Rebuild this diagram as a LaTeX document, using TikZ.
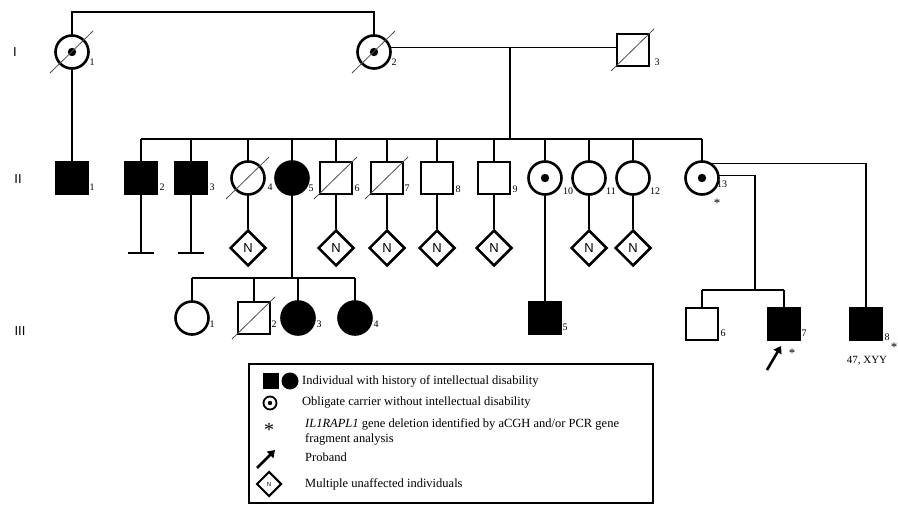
\documentclass[tikz,border=0pt]{standalone}
\usepackage{fontspec}
\setmainfont{Liberation Serif}
\newfontfamily\gensans{Liberation Sans}
\usetikzlibrary{shapes.geometric,arrows.meta}
\begin{document}
\begin{tikzpicture}[x=1pt,y=-1pt,
  ind/.style={draw,line width=2.6pt,inner sep=0pt,outer sep=0pt},
  male/.style={ind,rectangle,minimum size=32pt},
  female/.style={ind,circle,minimum size=33pt},
  aff/.style={fill=black},
  lnk/.style={line width=1.4pt},
  slash/.style={line width=0.8pt,draw=black!70},
  num/.style={font=\fontsize{10}{10}\selectfont,inner sep=0pt},
  gen/.style={font=\gensans\fontsize{13}{13}\selectfont,inner sep=0pt},
  nd/.style={draw,diamond,line width=2.5pt,minimum size=36pt,inner sep=0pt,font=\gensans\fontsize{13}{13}\selectfont},
  star/.style={font=\fontsize{13}{13}\selectfont,inner sep=0pt},
  leg/.style={font=\fontsize{12.5}{13}\selectfont,inner sep=0pt,anchor=west},
  proarrow/.style={line width=2.6pt,-{Triangle[length=7pt,width=9pt]}}
]
\useasboundingbox (0,0) rectangle (898,508);

% generation labels
\node[gen] (gI) at (15,52) {I};
\node[gen] (gII) at (18,179) {II};
\node[gen] (gIII) at (20,331) {III};

% Generation I
\node[female] (I1) at (72,52) {};
\node[female] (I2) at (374,52) {};
\node[male] (I3) at (633,50) {};
\fill (I1) circle (4.2pt);
\fill (I2) circle (4.2pt);
\draw[slash] (I1) ++(-22,21) -- ++(43,-42);
\draw[slash] (I2) ++(-22,21) -- ++(43,-42);
\draw[slash] (I3) ++(-22,21) -- ++(43,-42);
\node[num] (lI1) at ([shift={(20,10)}]I1.center) {1};
\node[num] (lI2) at ([shift={(20,10)}]I2.center) {2};
\node[num] (lI3) at ([shift={(24,12)}]I3.center) {3};
\coordinate (topm) at (223,12);
\draw[lnk] (I1.north) |- (topm) -| (I2.north);
\draw[lnk] (I2.15) -- (I3.west |- I2.15);
\coordinate (dropI) at (510,48);
\coordinate (sibII) at (510,139);
\draw[lnk] (dropI) -- (sibII);

% Generation II
\node[male,aff] (II1) at (72,178) {};
\node[male,aff] (II2) at (141,178) {};
\node[male,aff] (II3) at (191,178) {};
\node[female] (II4) at (248,178) {};
\node[female,aff] (II5) at (292,178) {};
\node[male] (II6) at (336,178) {};
\node[male] (II7) at (387,178) {};
\node[male] (II8) at (437,178) {};
\node[male] (II9) at (494,178) {};
\node[female] (II10) at (545,178) {};
\node[female] (II11) at (589,178) {};
\node[female] (II12) at (633,178) {};
\node[female] (II13) at (702,178) {};
\fill (II10) circle (4.2pt);
\fill (II13) circle (4.2pt);
\draw[slash] (II4) ++(-22,21) -- ++(43,-42);
\draw[slash] (II6) ++(-22,21) -- ++(43,-42);
\draw[slash] (II7) ++(-22,21) -- ++(43,-42);

\node[num] (lII1) at ([shift={(20,9)}]II1.center) {1};
\node[num] (lII2) at ([shift={(21,9)}]II2.center) {2};
\node[num] (lII3) at ([shift={(21,9)}]II3.center) {3};
\node[num] (lII4) at ([shift={(22,9)}]II4.center) {4};
\node[num] (lII5) at ([shift={(19,10)}]II5.center) {5};
\node[num] (lII6) at ([shift={(21,10)}]II6.center) {6};
\node[num] (lII7) at ([shift={(20,10)}]II7.center) {7};
\node[num] (lII8) at ([shift={(21,11)}]II8.center) {8};
\node[num] (lII9) at ([shift={(21,11)}]II9.center) {9};
\node[num] (lII10) at ([shift={(23,13)}]II10.center) {10};
\node[num] (lII11) at ([shift={(22,13)}]II11.center) {11};
\node[num] (lII12) at ([shift={(22,13)}]II12.center) {12};
\node[num] (lII13) at ([shift={(20,6)}]II13.center) {13};
\node[star] (sII13) at ([shift={(15,25)}]II13.center) {*};

\draw[lnk] (I1.south) -- (II1.north);
\draw[lnk] (II2.north |- sibII) -- (II13.north |- sibII);
\foreach \c in {II2,II3,II4,II5,II6,II7,II8,II9,II10,II11,II12,II13}
  \draw[lnk] (\c.north) -- (\c.north |- sibII);

% no offspring bars
\coordinate (nb2) at (141,253);
\coordinate (nb3) at (191,253);
\draw[lnk] (II2.south) -- (nb2);
\draw[lnk] (II3.south) -- (nb3);
\draw[lnk] (nb2) ++(-13,0) -- ++(26,0);
\draw[lnk] (nb3) ++(-13,0) -- ++(26,0);

% multiple unaffected diamonds
\foreach \c in {II4,II6,II7,II8,II9,II11,II12}{
  \node[nd] (N\c) at (\c |- 0,248) {N};
  \draw[lnk] (\c.south) -- (N\c.north);
}

% Generation III
\node[female] (III1) at (192,318) {};
\node[male] (III2) at (254,318) {};
\node[female,aff] (III3) at (298,318) {};
\node[female,aff] (III4) at (355,318) {};
\node[male,aff] (III5) at (545,318) {};
\node[male] (III6) at (702,324) {};
\node[male,aff] (III7) at (784,324) {};
\node[male,aff] (III8) at (866,324) {};
\draw[slash] (III2) ++(-22,21) -- ++(43,-42);

\node[num] (lIII1) at ([shift={(20,6)}]III1.center) {1};
\node[num] (lIII2) at ([shift={(20,6)}]III2.center) {2};
\node[num] (lIII3) at ([shift={(21,6)}]III3.center) {3};
\node[num] (lIII4) at ([shift={(21,6)}]III4.center) {4};
\node[num] (lIII5) at ([shift={(20,9)}]III5.center) {5};
\node[num] (lIII6) at ([shift={(21,9)}]III6.center) {6};
\node[num] (lIII7) at ([shift={(20,9)}]III7.center) {7};
\node[num] (lIII8) at ([shift={(21,13)}]III8.center) {8};
\node[star] (sIII7) at ([shift={(8,29)}]III7.center) {*};
\node[star] (sIII8) at ([shift={(28,23)}]III8.center) {*};
\node[font=\fontsize{11}{11}\selectfont,inner sep=0pt] (kar) at ([shift={(1,37)}]III8.center) {47, XYY};
\coordinate (arT) at (767,370);
\coordinate (arH) at (781,346);
\draw[proarrow] (arT) -- (arH);

\coordinate (sibIIIa) at (292,278);
\draw[lnk] (II5.south) -- (sibIIIa);
\draw[lnk] (III1.north |- sibIIIa) -- (III4.north |- sibIIIa);
\foreach \c in {III1,III2,III3,III4}
  \draw[lnk] (\c.north) -- (\c.north |- sibIIIa);
\draw[lnk] (II10.south) -- (III5.north);

\draw[lnk] (II13.62) -| (III8.north);
\coordinate (sibIIIc) at (755,290);
\draw[lnk] (II13.8) -| (sibIIIc);
\draw[lnk] (III6.north |- sibIIIc) -- (III7.north |- sibIIIc);
\draw[lnk] (III6.north) -- (III6.north |- sibIIIc);
\draw[lnk] (III7.north) -- (III7.north |- sibIIIc);

% Legend
\node[draw,line width=2pt,minimum width=404pt,minimum height=139pt,inner sep=0pt] (legbox) at (451,433.5) {};
\node[fill=black,minimum size=16pt,inner sep=0pt] (lsq) at (271,381) {};
\node[circle,fill=black,minimum size=17pt,inner sep=0pt] (lci) at (290,381) {};
\node[leg] (t1) at (302,381) {Individual with history of intellectual disability};
\node[circle,draw,line width=1.8pt,minimum size=13pt,inner sep=0pt] (lcar) at (270,403) {};
\fill (lcar) circle (2.2pt);
\node[leg] (t2) at (302,403) {Obligate carrier without intellectual disability};
\node[star,font=\fontsize{20}{20}\selectfont] (lstar) at (269,430) {*};
\node[leg] (t3) at (305,424) {\textit{IL1RAPL1} gene deletion identified by aCGH and/or PCR gene};
\node[leg] (t3b) at (305,439) {fragment analysis};
\coordinate (lat) at (257,468);
\coordinate (lah) at (275,450);
\draw[proarrow] (lat) -- (lah);
\node[leg] (t4) at (305,457) {Proband};
\node[draw,diamond,line width=2pt,minimum size=25pt,inner sep=0pt,font=\gensans\fontsize{6}{6}\selectfont] (ldia) at (269,484) {N};
\node[leg] (t5) at (305,484) {Multiple unaffected individuals};
\end{tikzpicture}
\end{document}
